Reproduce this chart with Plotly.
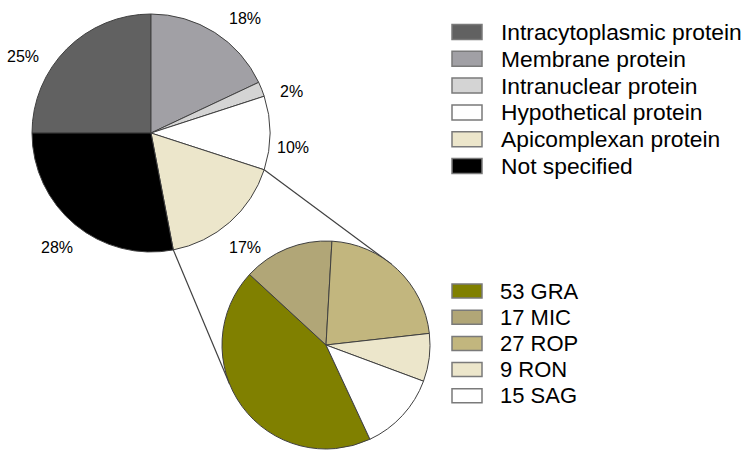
import math
import plotly.graph_objects as go

# ---------------- data ----------------
main_labels = ["Intracytoplasmic protein", "Membrane protein", "Intranuclear protein",
               "Hypothetical protein", "Apicomplexan protein", "Not specified"]
main_values = [25, 18, 2, 10, 17, 28]

sub_names = ["GRA", "MIC", "ROP", "RON", "SAG"]
sub_counts = [53, 17, 27, 9, 15]

# ---------------- styles ----------------
main_colors = ["#616161", "#a1a0a5", "#d4d4d4", "#ffffff", "#ece6cb", "#000000"]
sub_colors = ["#808000", "#b1a677", "#c2b67e", "#ece6cb", "#ffffff"]

W, H = 747, 468
FONT = "Liberation Sans, Arial, sans-serif"

def px(x):
    return x / W

def py(y):
    return 1 - y / H

# main pie geometry (pixels)
mcx, mcy, mr = 151, 133, 119
main_rot = -90  # first slice starts at 9 o'clock
# sub pie geometry
scx, scy, sr = 326, 345, 104
sub_rot = 155

fig = go.Figure()

fig.add_trace(go.Pie(
    labels=main_labels, values=main_values, sort=False, direction="clockwise",
    rotation=main_rot, textinfo="none", hoverinfo="label+percent",
    marker=dict(colors=main_colors, line=dict(color="#404040", width=1)),
    domain=dict(x=[px(mcx - mr), px(mcx + mr)], y=[py(mcy + mr), py(mcy - mr)]),
    showlegend=False,
))

fig.add_trace(go.Pie(
    labels=sub_names, values=sub_counts, sort=False, direction="clockwise",
    rotation=sub_rot, textinfo="none", hoverinfo="label+value",
    marker=dict(colors=sub_colors, line=dict(color="#404040", width=1)),
    domain=dict(x=[px(scx - sr), px(scx + sr)], y=[py(scy + sr), py(scy - sr)]),
    showlegend=False,
))

shapes = []
annotations = []

# percent labels around main pie, derived from the data
total = sum(main_values)
label_nudge = [-14, 7, 5, 6, 2, 0]
label_dist = [149, 148, 147, 143, 148, 148]
cum = 0
bounds = []
for i, v in enumerate(main_values):
    start = main_rot + 360 * cum / total
    cum += v
    end = main_rot + 360 * cum / total
    bounds.append((start, end))
    mid = math.radians((start + end) / 2 + label_nudge[i])
    lx = mcx + label_dist[i] * math.sin(mid)
    ly = mcy - label_dist[i] * math.cos(mid)
    annotations.append(dict(
        x=px(lx), y=py(ly), xref="paper", yref="paper", showarrow=False,
        text=f"{round(100 * v / total)}%", xanchor="center", yanchor="middle",
        font=dict(family=FONT, size=16, color="#000000")))

# connector lines from the Apicomplexan slice to the sub pie
a0, a1 = bounds[4]
sub_tangent = [39, 248]
for a_main, a_sub in [(a0, sub_tangent[0]), (a1, sub_tangent[1])]:
    x0 = mcx + mr * math.sin(math.radians(a_main))
    y0 = mcy - mr * math.cos(math.radians(a_main))
    x1 = scx + sr * math.sin(math.radians(a_sub))
    y1 = scy - sr * math.cos(math.radians(a_sub))
    shapes.append(dict(type="line", xref="paper", yref="paper",
                       x0=px(x0), y0=py(y0), x1=px(x1), y1=py(y1),
                       line=dict(color="#404040", width=1.2), layer="below"))

# legend 1
for i, (lab, col) in enumerate(zip(main_labels, main_colors)):
    cy = 32 + i * 26.8
    shapes.append(dict(type="rect", xref="paper", yref="paper",
                       x0=px(452), x1=px(482), y0=py(cy - 7.5), y1=py(cy + 7.5),
                       fillcolor=col, line=dict(color="#7a7a7a", width=1.5)))
    annotations.append(dict(x=px(499), y=py(cy), xref="paper", yref="paper",
                            showarrow=False, text=lab, xanchor="left", yanchor="middle",
                            font=dict(family=FONT, size=22.8, color="#000000")))

# legend 2
for i, (n, c, col) in enumerate(zip(sub_names, sub_counts, sub_colors)):
    cy = 291 + i * 26.2
    shapes.append(dict(type="rect", xref="paper", yref="paper",
                       x0=px(452), x1=px(482), y0=py(cy - 7), y1=py(cy + 7),
                       fillcolor=col, line=dict(color="#7a7a7a", width=1.5)))
    annotations.append(dict(x=px(498), y=py(cy), xref="paper", yref="paper",
                            showarrow=False, text=f"{c} {n}", xanchor="left", yanchor="middle",
                            font=dict(family=FONT, size=22, color="#000000")))

fig.update_layout(
    width=W, height=H, margin=dict(l=0, r=0, t=0, b=0),
    paper_bgcolor="#ffffff", plot_bgcolor="#ffffff",
    shapes=shapes, annotations=annotations,
    font=dict(family=FONT),
)

fig.write_html("out.html")
